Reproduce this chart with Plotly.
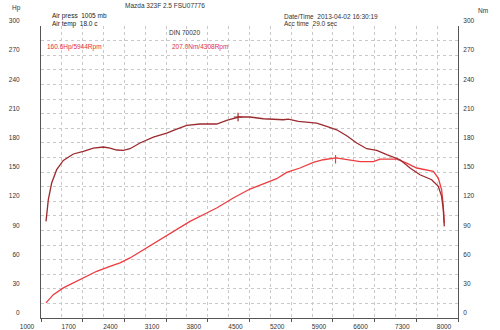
import plotly.graph_objects as go

# ---- data ----
rpm_torque = [1084, 1123, 1179, 1263, 1375, 1543, 1711, 1879, 2046, 2158, 2271, 2382, 2494,
              2662, 2886, 3110, 3278, 3446, 3669, 3949, 4117, 4319, 4508, 4732, 5068, 5152,
              5320, 5628, 5796, 5964, 6132, 6300, 6468, 6636, 6804, 7027, 7195, 7362, 7558,
              7669, 7725, 7753, 7770]
torque_nm = [99.3, 121.6, 138.7, 152.4, 161.9, 168.5, 171.2, 174.6, 175.7, 174.6, 172.6, 172.2,
             173.9, 179.8, 185.9, 190.0, 194.1, 197.8, 199.3, 199.3, 203.0, 206.5, 206.5, 204.7,
             203.7, 204.4, 202.0, 200.3, 196.8, 193.4, 187.3, 179.8, 173.9, 172.2, 167.8, 162.6,
             154.1, 147.2, 142.1, 135.2, 125.0, 111.3, 94.1]

rpm_power = [1084, 1207, 1375, 1543, 1711, 1935, 2158, 2326, 2494, 2718, 2942, 3221, 3501,
             3781, 3949, 4228, 4396, 4508, 4732, 4956, 5124, 5348, 5572, 5740, 5952, 6132,
             6356, 6580, 6692, 6971, 7139, 7307, 7475, 7586, 7669, 7725, 7753, 7770]
power_hp = [15.5, 24.0, 30.9, 36.0, 40.5, 48.0, 53.1, 56.6, 61.7, 70.2, 78.7, 89.0, 99.3,
            107.9, 113.0, 123.3, 129.0, 132.5, 137.7, 143.1, 149.6, 154.1, 159.9, 162.6, 164.4,
            162.6, 160.6, 160.6, 163.3, 163.3, 159.2, 154.1, 152.4, 150.6, 143.8, 131.8, 114.7,
            97.6]

peak_torque_rpm = [4308]
peak_torque_val = [206.5]
peak_power_rpm = [5944]
peak_power_val = [163.0]

x_ticks = [1000, 1700, 2400, 3100, 3800, 4500, 5200, 5900, 6600, 7300, 8000]
y_ticks = [0, 30, 60, 90, 120, 150, 180, 210, 240, 270, 300]

FONT = "Liberation Sans, Arial, sans-serif"
FS = 6.5
TORQUE_C = "#9c2a2e"
POWER_C = "#ee3b3f"
GRID_C = "#c9c9c9"
AXIS_C = "#555555"

fig = go.Figure()
fig.add_trace(go.Scatter(x=rpm_torque, y=torque_nm, mode="lines", yaxis="y2",
                         line=dict(color=TORQUE_C, width=1.3), hoverinfo="skip"))
fig.add_trace(go.Scatter(x=rpm_power, y=power_hp, mode="lines",
                         line=dict(color=POWER_C, width=1.3), hoverinfo="skip"))
fig.add_trace(go.Scatter(x=peak_torque_rpm, y=peak_torque_val, mode="markers", yaxis="y2",
                         marker=dict(symbol="cross-thin", size=6,
                                     line=dict(color=TORQUE_C, width=1.2)), hoverinfo="skip"))
fig.add_trace(go.Scatter(x=peak_power_rpm, y=peak_power_val, mode="markers",
                         marker=dict(symbol="line-ns", size=6,
                                     line=dict(color=POWER_C, width=1.2)), hoverinfo="skip"))

fig.update_layout(
    width=500, height=330,
    margin=dict(l=41, r=42, t=26, b=12, pad=0, autoexpand=False),
    paper_bgcolor="white", plot_bgcolor="white",
    showlegend=False,
    font=dict(family=FONT, size=FS, color="#333333"),
    xaxis=dict(
        range=[1000, 8000], tickvals=x_ticks, ticktext=[str(v) for v in x_ticks],
        showgrid=True, gridcolor=GRID_C, griddash="dot", gridwidth=1,
        minor=dict(dtick=350, tick0=1000, showgrid=True, gridcolor=GRID_C, griddash="dot",
                   gridwidth=1),
        showline=True, linecolor=AXIS_C, linewidth=1,
        ticks="outside", ticklen=3, tickcolor=AXIS_C,
        ticklabelshift=-14, ticklabelstandoff=-1, automargin=False,
        zeroline=False, fixedrange=True,
    ),
    yaxis=dict(
        range=[0, 300], tickvals=y_ticks, ticktext=[str(v) for v in y_ticks],
        showgrid=True, gridcolor=GRID_C, griddash="dot", gridwidth=1,
        minor=dict(dtick=15, tick0=0, showgrid=True, gridcolor=GRID_C, griddash="dot",
                   gridwidth=1),
        showline=True, linecolor=AXIS_C, linewidth=1,
        ticks="", ticklabelshift=-5, ticklabelstandoff=19, automargin=False,
        zeroline=False, fixedrange=True,
    ),
    yaxis2=dict(
        range=[0, 300], tickvals=y_ticks, ticktext=[str(v) for v in y_ticks],
        overlaying="y", side="right", showgrid=False,
        showline=True, linecolor=AXIS_C, linewidth=1,
        ticks="", ticklabelshift=-5, ticklabelstandoff=3, automargin=False,
        zeroline=False, fixedrange=True,
    ),
)

def px(x):
    return (x - 41) / 417.0

def py(y):
    return (318 - y) / 292.0

texts = [
    ("Hp", 10, 8, "#333333"),
    ("Nm", 476, 10, "#333333"),
    ("Mazda 323F 2.5 FSU07776", 123, 5, "#333333"),
    ("Air press  1005 mb", 50, 16, "#222222"),
    ("Air temp  18.0 c", 50, 24, "#222222"),
    ("DIN 70020", 167, 33, "#333333"),
    ("160.6Hp/5944Rpm", 45, 47, "#e0303a"),
    ("207.0Nm/4308Rpm", 170, 47, "#e0303a"),
    ("Date/Time  2013-04-02 16:30:19", 282, 16, "#333333"),
    ("Acc time  29.0 sec", 282, 24, "#333333"),
]
for t, x, y, c in texts:
    fig.add_annotation(text=t, x=px(x), y=py(y), xref="paper", yref="paper",
                       xanchor="left", yanchor="middle", showarrow=False,
                       font=dict(family=FONT, size=FS, color=c))

fig.write_html("out.html", config={"displayModeBar": False})
